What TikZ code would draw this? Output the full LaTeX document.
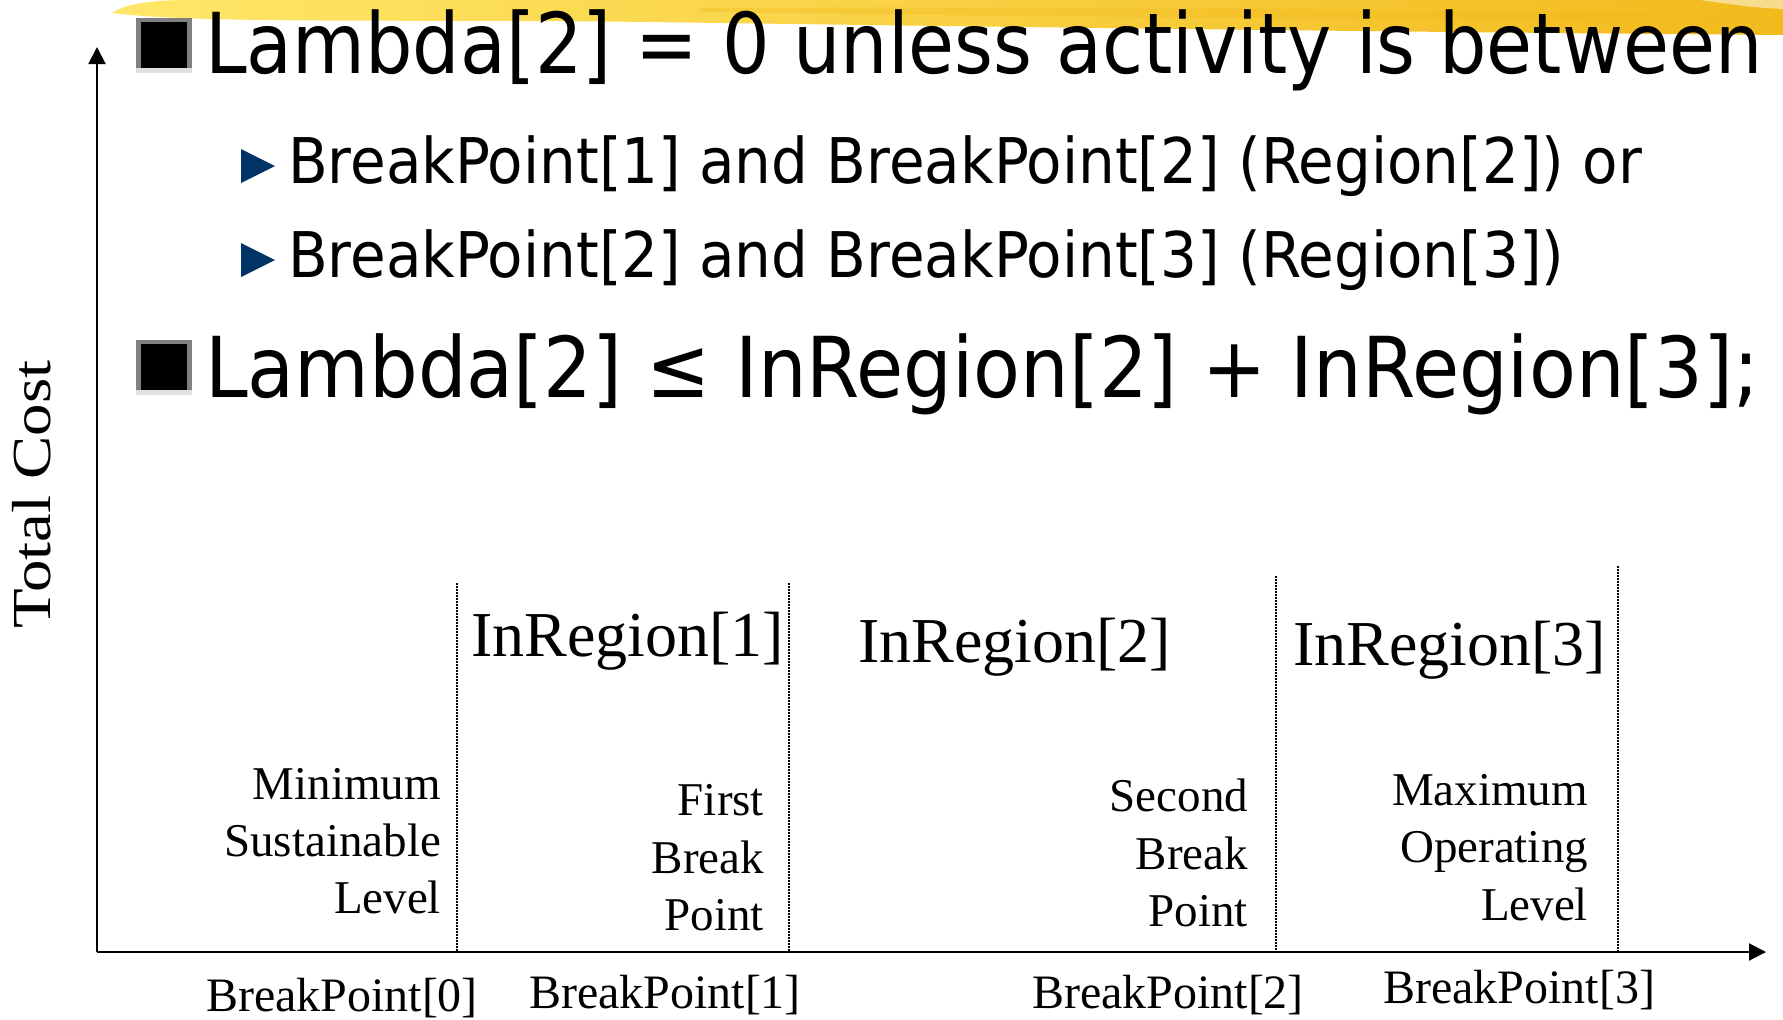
\documentclass[tikz,border=0pt]{standalone}
\usepackage{fontspec}
\usepackage{graphicx}
\usetikzlibrary{arrows.meta}
\newfontfamily\slidefont[FakeStretch=0.89]{DejaVu Sans}
\newfontfamily\widefont[FakeStretch=0.92]{DejaVu Sans}
\newfontfamily\boundfont[FakeStretch=0.913]{DejaVu Sans}
\newfontfamily\labelfont{Liberation Serif}
\definecolor{bulletblue}{RGB}{0,51,102}
\definecolor{brushlight}{RGB}{255,231,105}
\definecolor{brushdark}{RGB}{242,186,28}

\begin{document}
\begin{tikzpicture}[x=1pt, y=-1pt]
\useasboundingbox (0,0) rectangle (1783,1020);
% define node styles
\tikzstyle{every node} = [inner sep=0pt, outer sep=0pt]
\tikzstyle{headline}   = [anchor=base west, font=\slidefont\fontsize{84}{100}\selectfont]
\tikzstyle{subline}    = [anchor=base west, font=\widefont\fontsize{63}{75}\selectfont]
\tikzstyle{region}     = [anchor=base west, font=\labelfont\fontsize{64}{76}\selectfont]
\tikzstyle{note}       = [anchor=base east, font=\labelfont\fontsize{47}{57}\selectfont]
\tikzstyle{tick}       = [anchor=base west, font=\labelfont\fontsize{48}{58}\selectfont]
\tikzstyle{axis}       = [line width=2pt, -{Triangle[length=17pt, width=17pt]}]
\tikzstyle{bpline}     = [line width=1.3pt, dash pattern=on 1.5pt off 1.5pt]

% brush stroke along the top
\shade[left color=brushlight, right color=brushdark]
    (112,13) .. controls (125,4) and (150,0) .. (190,0) -- (1783,0) -- (1783,35)
    .. controls (1400,32) and (1000,27) .. (650,22)
    .. controls (400,19) and (200,24) .. (112,13) -- cycle;
\fill[brushdark, opacity=0.35] (700,8) .. controls (1000,6) and (1400,10) .. (1783,14)
    -- (1783,22) .. controls (1400,20) and (1000,16) .. (700,12) -- cycle;
\fill[white, opacity=0.5] (1700,0) -- (1783,0) -- (1783,9) .. controls (1750,7) .. (1700,0) -- cycle;

% square bullets
\foreach \y in {18, 340} {
    \fill[black!50] (136,\y) rectangle (192,\y+55);
    \fill[black!12] (136,\y+50) rectangle (192,\y+55);
    \fill[black]    (141,\y+4) rectangle (187,\y+50);
}

% triangle bullets
\foreach \y in {149, 243}
    \fill[bulletblue] (241,\y) -- (275,\y+17) -- (241,\y+34) -- cycle;

% bullet text
\node[headline] (lambda) at (205,73)  {Lambda[2] = 0 unless activity is between};
\node[subline]  (range2) at (288,183) {BreakPoint[1] and BreakPoint[2] (Region[2]) or};
\node[subline]  (range3) at (288,277) {BreakPoint[2] and BreakPoint[3] (Region[3])};
\node[headline, font=\boundfont\fontsize{84}{100}\selectfont]
    (bound) at (205,397) {Lambda[2] ≤ InRegion[2] + InRegion[3];};

% axes
\coordinate (origin) at (97,952);
\coordinate (ytip)   at (97,47);
\coordinate (xtip)   at (1766,952);
\draw[axis] (origin) -- (ytip);
\draw[axis] (origin) -- (xtip);
\node[font=\labelfont\fontsize{55}{66}\selectfont, rotate=90, anchor=base west]
    (cost) at (50,628) {\scalebox{1.18}[1]{Total Cost}};

% break points
\foreach \n/\x/\ytop in {0/457/583, 1/789/583, 2/1276/576, 3/1618/566} {
    \coordinate (top\n) at (\x,\ytop);
    \coordinate (bp\n)  at (\x,952);
    \draw[bpline] (top\n) -- (bp\n);
}
\foreach \n/\x/\y in {0/206/1011, 1/529/1008, 2/1032/1008, 3/1383/1003}
    \node[tick] (bplabel\n) at (\x,\y) {BreakPoint[\n]};

% region names
\foreach \n/\x/\y in {1/471/656, 2/858/662, 3/1293/665}
    \node[region] (region\n) at (\x,\y) {InRegion[\n]};

% level notes
\foreach \v/\x/\y/\txt in {min1/441/799/Minimum, min2/441/856/Sustainable, min3/441/913/Level,
        first1/764/815/First, first2/764/873/Break, first3/764/930/Point,
        second1/1248/811/Second, second2/1248/869/Break, second3/1248/926/Point,
        max1/1588/805/Maximum, max2/1588/862/Operating, max3/1588/920/Level}
    \node[note] (\v) at (\x,\y) {\txt};

\end{tikzpicture}
\end{document}
